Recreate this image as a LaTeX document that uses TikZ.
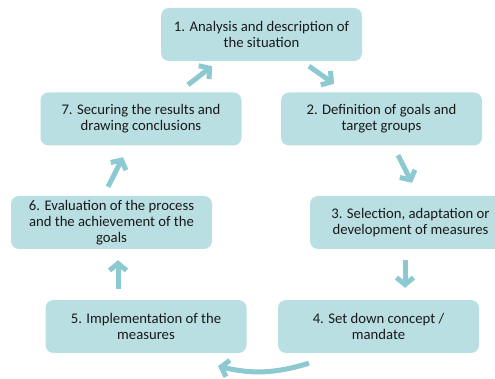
\documentclass[tikz,border=0pt]{standalone}
\usepackage{fontspec}
\setmainfont{Carlito}
\usetikzlibrary{arrows.meta}
\definecolor{boxfill}{RGB}{185,223,227}
\definecolor{arrowcol}{RGB}{140,201,209}

\begin{document}
\begin{tikzpicture}[x=1pt, y=-1pt,
    stage/.style={fill=boxfill, rounded corners=8pt, minimum width=201pt, minimum height=53pt,
        align=center, inner sep=2pt, text=black!90, font=\fontsize{14.7}{15.8}\selectfont},
    flow/.style={draw=arrowcol, line width=5pt, -{Straight Barb[length=7pt,width=17pt]}}]
        \clip (0,0) rectangle (495,379);
        % the seven stages
        \node[stage] (analysis) at (261.5,34.5) {1. Analysis and description of\\the situation};
        \node[stage] (goals) at (381.5,119) {2. Definition of goals and\\target groups};
        \node[stage] (measures) at (410.5,222.5) {3. Selection, adaptation or\\development of measures};
        \node[stage] (concept) at (378.5,326.5) {4. Set down concept /\\mandate};
        \node[stage] (impl) at (146,326.5) {5. Implementation of the\\measures};
        \node[stage] (eval) at (111.5,222.5) {6. Evaluation of the process\\and the achievement of the\\goals};
        \node[stage] (results) at (141,119) {7. Securing the results and\\drawing conclusions};
        % arrows round the cycle
        \draw[flow] ([shift={(47.5,5)}]analysis.south) -- ([shift={(-47.5,-8.5)}]goals.north);
        \draw[flow] ([shift={(16.5,9.5)}]goals.south) -- ([shift={(1.5,-13)}]measures.north);
        \draw[flow] ([shift={(-5.5,11)}]measures.south) -- ([shift={(26.5,-12)}]concept.north);
        \draw[flow] ([shift={(-69.5,10)}]concept.south) to[bend left=15] ([shift={(72,13)}]impl.south);
        \draw[flow] ([shift={(-28,-11)}]impl.north) -- ([shift={(6.5,11)}]eval.south);
        \draw[flow] ([shift={(-3.5,-9)}]eval.north) -- ([shift={(-18,11.5)}]results.south);
        \draw[flow] ([shift={(47,-7.5)}]results.north) -- ([shift={(-49.5,5)}]analysis.south);
\end{tikzpicture}
\end{document}
